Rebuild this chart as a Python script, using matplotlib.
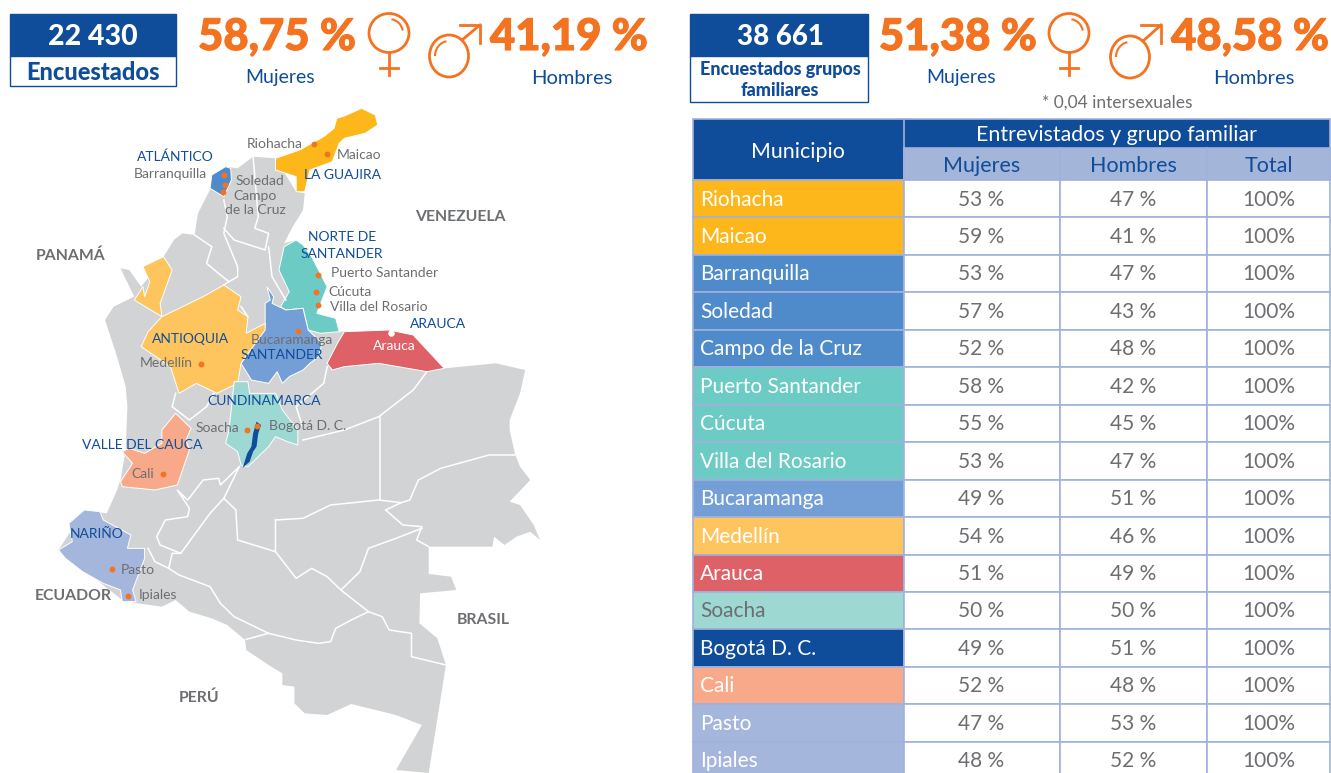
import matplotlib
matplotlib.use('Agg')
import matplotlib.pyplot as plt
import matplotlib.patheffects as pe
from matplotlib.patches import Polygon, Rectangle, Ellipse, Arc

plt.rcParams['font.family'] = ['Lato', 'DejaVu Sans']

BLUE = '#0f4c9a'
ORANGE = '#f47321'
GRAY = '#6d6e71'
LAND = '#d1d3d4'
EDGE = '#a0b1dc'

# table
municipios = ['Riohacha', 'Maicao', 'Barranquilla', 'Soledad', 'Campo de la Cruz', 'Puerto Santander',
              'Cúcuta', 'Villa del Rosario', 'Bucaramanga', 'Medellín', 'Arauca', 'Soacha',
              'Bogotá D. C.', 'Cali', 'Pasto', 'Ipiales']
mujeres = [53, 59, 53, 57, 52, 58, 55, 53, 49, 54, 51, 50, 49, 52, 47, 48]
hombres = [47, 41, 47, 43, 48, 42, 45, 47, 51, 46, 49, 50, 51, 48, 53, 52]
total = [100] * 16
colores = ['#fdb71a', '#fdb71a', '#4f8bcb', '#4f8bcb', '#4f8bcb', '#6ccbc4', '#6ccbc4', '#6ccbc4',
           '#739fd6', '#fec55e', '#dd6167', '#9dd9d2', BLUE, '#f8a98a', '#a4b6dc', '#a4b6dc']

# map outlines (x in px*2.904, y in (px-100)*3)
colombia = [(612, 265), (655, 200), (690, 205), (735, 170), (800, 175), (860, 275), (885, 280), (880, 330),
            (850, 380), (825, 430), (860, 420), (905, 470), (950, 560), (920, 640), (975, 655), (985, 695),
            (1130, 690), (1200, 705), (1290, 805), (1340, 800), (1440, 790), (1525, 810), (1510, 880),
            (1480, 960), (1480, 990), (1495, 1060), (1510, 1100), (1540, 1140), (1480, 1205), (1510, 1215),
            (1550, 1275), (1568, 1320), (1540, 1295), (1500, 1310), (1465, 1335), (1435, 1310), (1430, 1340),
            (1245, 1340), (1245, 1422), (1310, 1430), (1325, 1470), (1220, 1480), (1218, 1570), (1270, 1615),
            (1295, 1695), (1245, 2019), (1150, 2010), (1225, 1875), (1150, 1845), (1020, 1812), (950, 1845),
            (885, 1840), (855, 1810), (855, 1760), (820, 1755), (820, 1720), (780, 1695), (715, 1650),
            (712, 1620), (660, 1575), (615, 1555), (550, 1535), (510, 1500), (470, 1520), (400, 1510),
            (355, 1500), (170, 1350), (245, 1230), (310, 1240), (340, 1170), (350, 1140), (365, 1050),
            (370, 920), (365, 860), (340, 770), (305, 660), (330, 620), (390, 590), (350, 505), (375, 510),
            (410, 560), (440, 520), (415, 500), (475, 470), (505, 420), (530, 400), (565, 405), (575, 340)]
guajira = [(800, 175), (870, 150), (940, 110), (970, 85), (978, 55), (1000, 48), (1050, 25), (1090, 45), (1097, 75),
           (1060, 100), (1000, 115), (985, 130), (965, 185), (900, 210), (885, 275), (860, 275), (860, 230), (800, 210)]
atlantico = [(655, 200), (670, 205), (672, 240), (650, 290), (610, 265), (615, 225)]
norte_santander = [(860, 420), (880, 435), (905, 470), (925, 510), (950, 560), (920, 640), (975, 655), (985, 695),
                   (930, 700), (895, 690), (880, 625), (830, 630), (815, 620), (840, 575), (810, 510), (825, 440)]
santander = [(775, 560), (795, 590), (790, 610), (830, 630), (880, 625), (895, 690), (935, 730), (925, 770),
             (900, 790), (880, 810), (840, 830), (820, 850), (805, 815), (780, 850), (730, 840), (700, 790),
             (770, 680), (770, 610), (785, 600)]
arauca = [(1000, 695), (1130, 690), (1200, 705), (1290, 805), (1240, 815), (1100, 790), (1000, 800),
          (965, 810), (950, 790), (980, 730)]
antioquia = [(390, 600), (415, 560), (420, 590), (435, 545), (415, 500), (475, 470), (500, 510), (465, 610),
             (470, 650), (590, 590), (650, 555), (700, 590), (690, 630), (720, 650), (715, 700), (770, 670),
             (770, 690), (700, 790), (690, 850), (630, 880), (570, 850), (520, 880), (495, 800), (410, 740),
             (430, 695), (470, 650)]
cundinamarca = [(680, 845), (720, 845), (725, 880), (800, 880), (820, 930), (865, 990), (865, 1035), (835, 1025),
                (800, 1010), (780, 1040), (720, 1100), (700, 1095), (690, 1055), (655, 1030), (665, 990)]
bogota = [(745, 965), (758, 975), (750, 1000), (745, 1040), (735, 1055), (725, 1085), (705, 1103), (718, 1060),
          (730, 1040), (735, 1000)]
valle = [(470, 990), (510, 940), (555, 985), (540, 1020), (550, 1050), (515, 1155), (450, 1170), (355, 1160),
         (350, 1145), (385, 1090), (355, 1055), (375, 1045), (420, 1060), (470, 1030)]
narino = [(170, 1350), (210, 1325), (200, 1270), (245, 1230), (290, 1235), (300, 1260), (380, 1305), (370, 1345),
          (420, 1345), (420, 1375), (385, 1470), (395, 1505), (355, 1505), (350, 1470), (300, 1450), (240, 1415),
          (190, 1375)]
regiones = [(guajira, '#fdb71a'), (atlantico, '#4f8bcb'), (norte_santander, '#6ccbc4'), (santander, '#739fd6'),
            (arauca, '#dd6167'), (antioquia, '#fec55e'), (cundinamarca, '#9dd9d2'), (valle, '#f8a98a'),
            (narino, '#a4b6dc')]
limites = [
    [(565, 405), (615, 440), (600, 490), (640, 525), (665, 545), (650, 555)],
    [(650, 300), (660, 350), (650, 400), (690, 500), (690, 530), (665, 545)],
    [(650, 385), (680, 420), (770, 450), (780, 400), (740, 385), (750, 350), (735, 170)],
    [(780, 440), (790, 530), (830, 600)],
    [(700, 620), (720, 650)],
    [(950, 800), (940, 850), (860, 920), (880, 985)],
    [(1240, 815), (1200, 870), (1100, 950), (1000, 990), (880, 1020)],
    [(1103, 950), (1103, 1200)],
    [(800, 1260), (880, 1255), (960, 1215), (1100, 1200), (1165, 1208), (1190, 1200), (1215, 1140), (1280, 1105),
     (1420, 1065), (1495, 1065)],
    [(1120, 1230), (1165, 1208)],
    [(1120, 1230), (1170, 1275), (1225, 1280), (1210, 1320), (1245, 1340)],
    [(1225, 1285), (1150, 1315), (1070, 1345), (1045, 1415), (990, 1470)],
    [(800, 1260), (800, 1355), (690, 1320), (685, 1230), (650, 1195), (610, 1240), (525, 1360), (465, 1335),
     (455, 1310), (480, 1260), (545, 1250), (550, 1225), (515, 1170), (545, 1200), (590, 1140), (635, 1135),
     (640, 1155), (695, 1100)],
    [(800, 1355), (860, 1435), (905, 1405), (950, 1430), (990, 1470), (1070, 1535), (1110, 1550), (1130, 1590),
     (1195, 1600), (1195, 1670), (1295, 1695)],
    [(1070, 1535), (1020, 1560), (975, 1585), (960, 1625), (925, 1630), (860, 1620), (780, 1600), (715, 1618)],
    [(525, 1360), (500, 1360), (490, 1405), (520, 1425), (610, 1460), (640, 1510), (680, 1550), (780, 1600)],
    [(650, 1195), (695, 1100)],
    [(510, 880), (500, 920), (550, 960), (600, 920), (620, 880)],
    [(430, 1345), (450, 1385), (490, 1405)],
]
ciudades = [(911, 131), (950, 161), (651, 224), (654, 255), (647, 275), (923, 526), (919, 577), (923, 616), (864, 692),
            (584, 793), (717, 990), (747, 978), (474, 1122), (326, 1407), (372, 1487)]

# label, x px, y px
paises = [('VENEZUELA', 460, 217), ('PANAMÁ', 71, 256), ('ECUADOR', 73, 596), ('BRASIL', 483, 620), ('PERÚ', 199, 698)]
deptos = [('ATLÁNTICO', 175, 157), ('LA GUAJIRA', 343, 175), ('NORTE DE', 342, 237), ('SANTANDER', 342, 254),
          ('ARAUCA', 438, 324), ('ANTIOQUIA', 191, 339), ('SANTANDER', 282, 355), ('CUNDINAMARCA', 264, 401),
          ('VALLE DEL CAUCA', 142, 445), ('NARIÑO', 97, 534)]
nombres = [('Riohacha', 275, 144), ('Maicao', 359, 155), ('Barranquilla', 170, 174), ('Soledad', 260, 181),
           ('Campo', 255, 196), ('de la Cruz', 255, 210), ('Puerto Santander', 385, 273), ('Cúcuta', 350, 292),
           ('Villa del Rosario', 379, 307), ('Bucaramanga', 292, 340), ('Medellín', 166, 363), ('Soacha', 217, 428),
           ('Bogotá D. C.', 308, 426), ('Cali', 143, 474), ('Pasto', 138, 570), ('Ipiales', 158, 595)]


def px(p):
    return [(x / 2.904, 100 + y / 3) for x, y in p]


def venus(ax, cx, cy):
    ax.add_patch(Ellipse((cx, cy), 40, 39, fill=False, ec=ORANGE, lw=2))
    ax.add_patch(Arc((cx, cy), 28, 28, theta1=-80, theta2=-10, ec=ORANGE, lw=1.5))
    ax.plot([cx, cx], [cy + 20, cy + 42], color=ORANGE, lw=2)
    ax.plot([cx - 9, cx + 9], [cy + 35, cy + 35], color=ORANGE, lw=2)


def marte(ax, cx, cy, tip):
    ax.add_patch(Ellipse((cx, cy), 39, 42, fill=False, ec=ORANGE, lw=2))
    ax.add_patch(Arc((cx, cy), 28, 30, theta1=180, theta2=260, ec=ORANGE, lw=1.5))
    ax.plot([cx + 13, tip[0]], [cy - 16, tip[1]], color=ORANGE, lw=2)
    ax.plot([tip[0] - 20, tip[0], tip[0]], [tip[1], tip[1], tip[1] + 18], color=ORANGE, lw=2)


def grande(ax, x, t):
    ax.text(x, 37, t, color=ORANGE, fontsize=31.4, fontweight='black', ha='center', va='center',
            path_effects=[pe.withStroke(linewidth=0.8, foreground=ORANGE)])


fig = plt.figure(figsize=(13.31, 7.73), dpi=100)
ax = fig.add_axes([0, 0, 1, 1])
ax.set_xlim(0, 1331)
ax.set_ylim(773, 0)
ax.axis('off')

# cabeceras
ax.add_patch(Rectangle((10, 14), 166, 42, fc=BLUE, ec=BLUE))
ax.add_patch(Rectangle((10, 56), 166, 30, fc='white', ec=BLUE, lw=1))
ax.text(93, 37, '22 430', color='white', fontsize=20.5, fontweight='black', ha='center', va='center')
ax.text(93, 72, 'Encuestados', color=BLUE, fontsize=17, fontweight='black', ha='center', va='center')
grande(ax, 277, '58,75 %')
grande(ax, 569, '41,19 %')
ax.text(280, 78, 'Mujeres', color=BLUE, fontsize=14, ha='center', va='center')
ax.text(572, 79, 'Hombres', color=BLUE, fontsize=14.5, ha='center', va='center')
venus(ax, 389, 33)
marte(ax, 449, 56, (480, 25))

ax.add_patch(Rectangle((690, 14), 178, 42, fc=BLUE, ec=BLUE))
ax.add_patch(Rectangle((690, 56), 178, 46, fc='white', ec=BLUE, lw=1))
ax.text(780, 37, '38 661', color='white', fontsize=20, fontweight='black', ha='center', va='center')
ax.text(780, 69, 'Encuestados grupos', color=BLUE, fontsize=13, fontweight='black', ha='center', va='center')
ax.text(780, 90, 'familiares', color=BLUE, fontsize=13, fontweight='black', ha='center', va='center')
grande(ax, 958, '51,38 %')
grande(ax, 1250, '48,58 %')
ax.text(961, 78, 'Mujeres', color=BLUE, fontsize=14, ha='center', va='center')
ax.text(1254, 79, 'Hombres', color=BLUE, fontsize=14.5, ha='center', va='center')
ax.text(1117, 103, '* 0,04 intersexuales', color=GRAY, fontsize=12.5, ha='center', va='center')
venus(ax, 1069, 33)
marte(ax, 1130, 57, (1161, 25))

# mapa
ax.add_patch(Polygon(px(colombia), fc=LAND, ec='none'))
for l in limites:
    xy = px(l)
    ax.plot([p[0] for p in xy], [p[1] for p in xy], color='white', lw=1.1)
for reg, c in regiones:
    ax.add_patch(Polygon(px(reg), fc=c, ec='white', lw=0.7))
ax.add_patch(Polygon(px(bogota), fc=BLUE, ec='none', zorder=3))
xy = px(ciudades)
ax.scatter([p[0] for p in xy], [p[1] for p in xy], s=18, color=ORANGE, zorder=4, linewidths=0)
ax.scatter(*px([(1135, 700)])[0], s=22, color='white', zorder=4, linewidths=0)
for t, x, y in paises:
    ax.text(x, y, t, color=GRAY, fontsize=11.3, fontweight='bold', ha='center', va='center', zorder=5)
for t, x, y in nombres:
    ax.text(x, y, t, color=GRAY, fontsize=10, ha='center', va='center', zorder=5)
ax.text(394, 346, 'Arauca', color='white', fontsize=10, ha='center', va='center', zorder=5)
for t, x, y in deptos:
    ax.text(x, y, t, color=BLUE, fontsize=10, ha='center', va='center', zorder=5)

# tabla
col = [693, 904, 1060, 1207, 1330]
top, mid, head = 119, 148, 180
alto = 37.45
ax.add_patch(Rectangle((col[0], top), col[4] - col[0], head - top, fc=BLUE, ec=EDGE, lw=1.2))
ax.add_patch(Rectangle((col[1], mid), col[4] - col[1], head - mid, fc='#a3b6da', ec=EDGE, lw=1.2))
ax.plot([col[1], col[1]], [top, head], color=EDGE, lw=1.2)
ax.text(798, 151.5, 'Municipio', color='white', fontsize=15.4, ha='center', va='center')
ax.text(1117, 135, 'Entrevistados y grupo familiar', color='white', fontsize=15.4, ha='center', va='center')
for i, t in enumerate(['Mujeres', 'Hombres', 'Total']):
    ax.plot([col[i + 1]] * 2, [mid, head], color=EDGE, lw=1.2)
    ax.text((col[i + 1] + col[i + 2]) / 2, 165.5, t, color=BLUE, fontsize=15.5, ha='center', va='center')
for i, m in enumerate(municipios):
    y0 = head + i * alto
    ax.add_patch(Rectangle((col[0], y0), col[1] - col[0], alto, fc=colores[i], ec=EDGE, lw=1.2))
    for j in range(1, 4):
        ax.add_patch(Rectangle((col[j], y0), col[j + 1] - col[j], alto, fc='white', ec=EDGE, lw=1.2))
    yc = y0 + alto / 2 + 0.8
    ax.text(700, yc, m, color=GRAY if m == 'Soacha' else 'white', fontsize=15, ha='left', va='center')
    ax.text((col[1] + col[2]) / 2 - 1, yc, '%d %%' % mujeres[i], color=GRAY, fontsize=15, ha='center', va='center')
    ax.text((col[2] + col[3]) / 2, yc, '%d %%' % hombres[i], color=GRAY, fontsize=15, ha='center', va='center')
    ax.text((col[3] + col[4]) / 2, yc, '%d%%' % total[i], color=GRAY, fontsize=15, ha='center', va='center')

fig.savefig('out.png', dpi=100)
